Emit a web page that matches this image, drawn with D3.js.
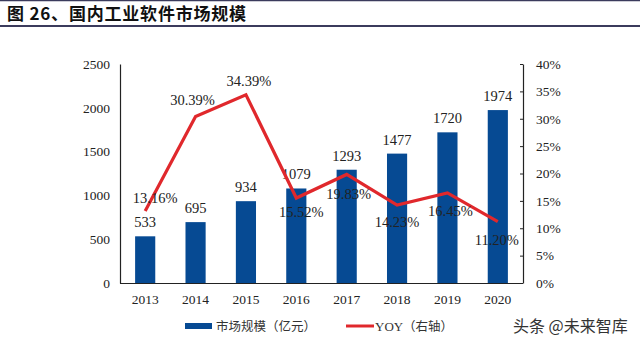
<!DOCTYPE html>
<html><head><meta charset="utf-8">
<script src="https://cdn.jsdelivr.net/npm/d3@7"></script>
<style>body{margin:0;background:#fff}svg{display:block}</style>
</head><body>
<svg id="c" width="640" height="348"></svg>
<script>
const years = ["2013","2014","2015","2016","2017","2018","2019","2020"];
const market = [533, 695, 934, 1079, 1293, 1477, 1720, 1974];
const yoy = [13.16, 30.39, 34.39, 15.52, 19.83, 14.23, 16.45, 11.20];
const leftTicks = [0, 500, 1000, 1500, 2000, 2500];
const rightTicks = [0, 5, 10, 15, 20, 25, 30, 35, 40];
// label offsets for YOY labels (dx, dy) relative to point
const yoyLabelOffset = [[10,-13],[-3,-17],[3,-14],[5,14],[2,20],[0,17],[3,18],[-1,18]];

const svg = d3.select("#c");
const serif = "'Liberation Serif','Times New Roman',serif";
const cjk = "'Noto Sans CJK SC',sans-serif";

// Title bar
svg.append("line").attr("x1",0).attr("x2",640).attr("y1",0.5).attr("y2",0.5).attr("stroke","#3b3b5c").attr("stroke-width",1.5);
svg.append("line").attr("x1",0).attr("x2",640).attr("y1",26).attr("y2",26).attr("stroke","#3b3b5c").attr("stroke-width",2);
svg.append("text").attr("x",7).attr("y",20).attr("font-family",cjk).attr("font-weight","bold")
  .attr("font-size",17).attr("letter-spacing",0.8).attr("fill","#111").text("图 26、国内工业软件市场规模");

const x0 = 120, x1 = 523, yBase = 283, yTop = 64;
const x = d3.scaleBand().domain(years).range([x0, x1]).paddingInner(0.6).paddingOuter(0.3);
const yL = d3.scaleLinear().domain([0,2500]).range([yBase, yTop]);
const yR = d3.scaleLinear().domain([0,40]).range([yBase, yTop]);

// bars
svg.selectAll("rect.bar").data(market).enter().append("rect")
  .attr("x",(d,i)=>x(years[i])).attr("width",x.bandwidth())
  .attr("y",d=>yL(d)).attr("height",d=>yBase-yL(d)).attr("fill","#064a93");

// left axis
const gL = svg.append("g").attr("transform",`translate(${x0},0)`)
  .call(d3.axisLeft(yL).tickValues(leftTicks).tickSize(0).tickPadding(10).tickFormat(d=>String(d)));
gL.select(".domain").attr("stroke","#222").attr("stroke-width",1.2);
gL.selectAll("text").attr("font-family",serif).attr("font-size",13.5).attr("fill","#222");

// right axis
const gR = svg.append("g").attr("transform",`translate(${x1},0)`)
  .call(d3.axisRight(yR).tickValues(rightTicks).tickSize(0).tickPadding(13).tickFormat(d=>d+"%"));
gR.select(".domain").attr("stroke","#222").attr("stroke-width",1.2);
gR.selectAll(".tick line").attr("x1",-3).attr("x2",0).attr("stroke","#222");
gR.selectAll("text").attr("font-family",serif).attr("font-size",13.5).attr("fill","#222");

// bottom axis
const gB = svg.append("g").attr("transform",`translate(0,${yBase})`)
  .call(d3.axisBottom(x).tickSize(0).tickPadding(11));
gB.select(".domain").attr("d",`M${x0},0.5H${x1}`).attr("stroke","#222").attr("stroke-width",1.2);
gB.selectAll("text").attr("font-family",serif).attr("font-size",13.5).attr("fill","#222");

// bar labels
svg.selectAll("text.bl").data(market).enter().append("text")
  .attr("x",(d,i)=>x(years[i])+x.bandwidth()/2).attr("y",d=>yL(d)-9)
  .attr("text-anchor","middle").attr("font-family",serif).attr("font-size",14.5).attr("fill","#222")
  .text(d=>d);

// line
const cx = i => x(years[i]) + x.bandwidth()/2;
svg.append("path").datum(yoy)
  .attr("d", d3.line().x((d,i)=>cx(i)).y(d=>yR(d)))
  .attr("fill","none").attr("stroke","#e0282c").attr("stroke-width",3.2).attr("stroke-linejoin","miter");

// yoy labels
svg.selectAll("text.yl").data(yoy).enter().append("text")
  .attr("x",(d,i)=>cx(i)+yoyLabelOffset[i][0]).attr("y",(d,i)=>yR(d)+yoyLabelOffset[i][1]+5)
  .attr("text-anchor","middle").attr("font-family",serif).attr("font-size",14.5).attr("fill","#222")
  .text(d=>d.toFixed(2)+"%");

// legend
const ly = 326;
svg.append("rect").attr("x",185).attr("y",ly-3).attr("width",27).attr("height",6).attr("fill","#064a93");
svg.append("text").attr("x",216).attr("y",ly+4.5).attr("font-family",cjk).attr("font-size",12.5).attr("fill","#333").text("市场规模（亿元）");
svg.append("line").attr("x1",346).attr("x2",374).attr("y1",ly).attr("y2",ly).attr("stroke","#e0282c").attr("stroke-width",3);
svg.append("text").attr("x",375).attr("y",ly+4.5).attr("font-family",serif).attr("font-size",13).attr("fill","#333").text("YOY");
svg.append("text").attr("x",403).attr("y",ly+4.5).attr("font-family",cjk).attr("font-size",12.5).attr("fill","#333").text("（右轴）");

// watermark
svg.append("text").attr("x",513).attr("y",ly+6).attr("font-family",cjk).attr("font-size",16).attr("fill","#333").text("头条 @未来智库");
</script>
</body></html>
